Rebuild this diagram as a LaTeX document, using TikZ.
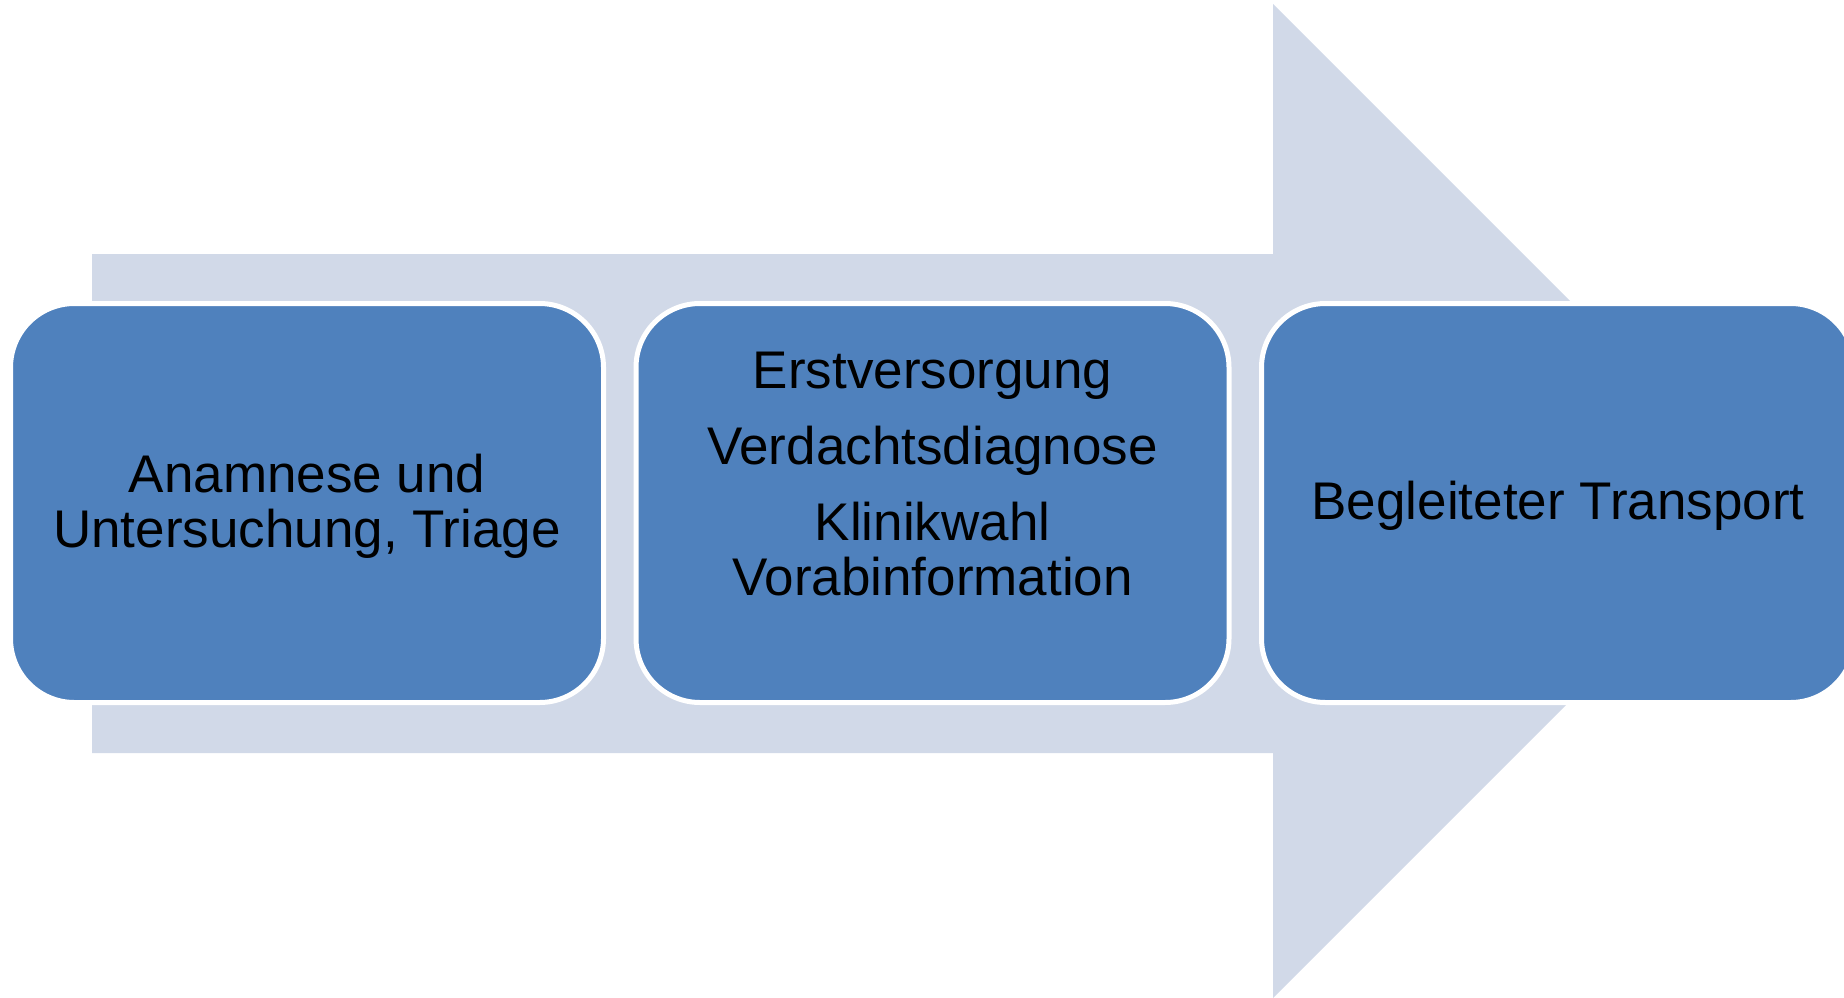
\documentclass[tikz,border=0pt]{standalone}
\usepackage{fontspec}
\setmainfont{Liberation Sans}
\usepackage{tikz}
\usetikzlibrary{positioning}
\definecolor{stageblue}{HTML}{4F81BD}
\definecolor{arrowgrey}{HTML}{D1D9E8}
\tikzstyle{stage} = [draw=white, line width=5pt, fill=stageblue, rectangle,
    rounded corners=64pt, minimum width=593pt, minimum height=399pt,
    inner sep=0pt, align=center, node distance=625.5pt,
    font=\fontsize{53}{55}\selectfont]
\newcommand{\lift}{\rule{0pt}{44pt}}

\begin{document}
\begin{tikzpicture}[x=1pt, y=-1pt]
  \useasboundingbox (0,0) rectangle (1844,998);
  \clip (0,0) rectangle (1844,998);
  % big arrow behind the stages
  \fill[arrowgrey] (92,254) -- (1273,254) -- (1273,4) -- (1770,501)
    -- (1273,998) -- (1273,753) -- (92,753) -- cycle;
  \node [stage] at (307,503) (s1) {\lift Anamnese und\\Untersuchung, Triage};
  \node [stage, right of=s1] (s2) {Erstversorgung\\[21pt]Verdachtsdiagnose\\[21pt]Klinikwahl\\Vorabinformation\rule[-58pt]{0pt}{0pt}};
  \node [stage, right of=s2] (s3) {\lift Begleiteter Transport};
\end{tikzpicture}
\end{document}
